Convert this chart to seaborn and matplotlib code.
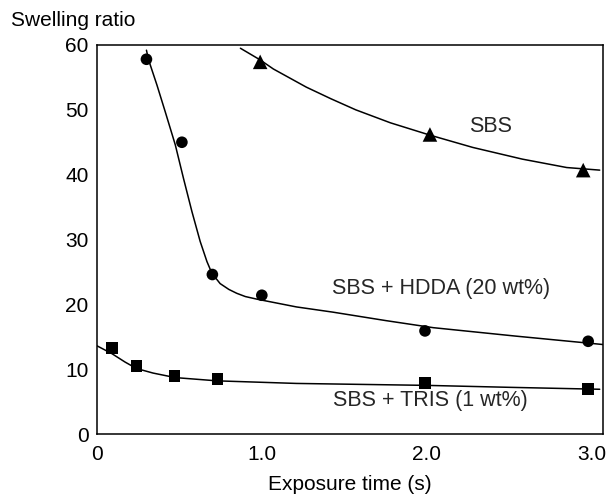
import numpy as np
import pandas as pd
import matplotlib
matplotlib.use("Agg")
import matplotlib.pyplot as plt
import seaborn as sns

# ---- measured data points ----
sbs_x = [0.99, 2.02, 2.95]
sbs_y = [57.4, 46.2, 40.7]

hdda_x = [0.30, 0.515, 0.70, 1.00, 1.99, 2.98]
hdda_y = [57.8, 45.0, 24.6, 21.4, 15.9, 14.3]

tris_x = [0.09, 0.24, 0.47, 0.73, 1.99, 2.98]
tris_y = [13.3, 10.5, 8.9, 8.5, 7.9, 6.9]

# ---- fitted curves ----
sbs_curve_x = [0.87, 0.93, 0.99, 1.07, 1.17, 1.27, 1.42, 1.57, 1.78, 2.02,
               2.28, 2.58, 2.85, 3.05]
sbs_curve_y = [59.5, 58.6, 57.7, 56.3, 54.9, 53.5, 51.7, 50.0, 48.0, 46.1,
               44.2, 42.4, 41.1, 40.7]

hdda_curve_x = [0.30, 0.313, 0.364, 0.414, 0.475, 0.525, 0.576, 0.626, 0.667,
                0.697, 0.747, 0.80, 0.848, 0.90, 0.97, 1.05, 1.13, 1.21, 1.43,
                1.75, 2.04, 2.54, 3.07]
hdda_curve_y = [59.2, 57.7, 53.8, 49.7, 44.6, 39.4, 34.3, 29.7, 26.6,
                24.8, 23.2, 22.3, 21.7, 21.2, 20.8, 20.4, 20.0, 19.6, 18.8,
                17.5, 16.4, 15.1, 13.8]

tris_curve_x = [0.0, 0.09, 0.17, 0.24, 0.34, 0.475, 0.727, 1.21, 2.0, 2.5, 3.05]
tris_curve_y = [13.6, 12.4, 11.1, 10.1, 9.4, 8.7, 8.2, 7.8, 7.5, 7.2, 6.9]

labels = ["SBS", "SBS + HDDA (20 wt%)", "SBS + TRIS (1 wt%)"]

pts = pd.DataFrame({
    "x": sbs_x + hdda_x + tris_x,
    "y": sbs_y + hdda_y + tris_y,
    "s": [labels[0]] * len(sbs_x) + [labels[1]] * len(hdda_x) + [labels[2]] * len(tris_x),
})
curves = pd.DataFrame({
    "x": sbs_curve_x + hdda_curve_x + tris_curve_x,
    "y": sbs_curve_y + hdda_curve_y + tris_curve_y,
    "s": [labels[0]] * len(sbs_curve_x) + [labels[1]] * len(hdda_curve_x) + [labels[2]] * len(tris_curve_x),
})

sns.set_theme(style="white")
plt.rcParams["font.family"] = ["Liberation Sans", "DejaVu Sans"]

fig = plt.figure(figsize=(6.08, 4.97), dpi=100)
ax = fig.add_axes([97 / 608, 1 - 434 / 497, (603 - 97) / 608, (434 - 45) / 497])

pal = {l: "black" for l in labels}
sns.lineplot(data=curves, x="x", y="y", hue="s", palette=pal, sort=False,
             estimator=None, linewidth=1.1, legend=False, ax=ax)
sns.scatterplot(data=pts, x="x", y="y", hue="s", style="s", size="s", palette=pal,
                markers={labels[0]: "^", labels[1]: "o", labels[2]: "s"},
                sizes={labels[0]: 110, labels[1]: 70, labels[2]: 70},
                edgecolor="black", linewidth=0, legend=False, ax=ax, zorder=3)

ax.set_xlim(0, 3.07)
ax.set_ylim(0, 60)
ax.set_xticks([0, 1, 2, 3])
ax.set_xticklabels(["0", "1.0", "2.0", "3.0"])
ax.set_yticks([0, 10, 20, 30, 40, 50, 60])
ax.tick_params(axis="x", direction="in", length=16, width=1, pad=8,
               labelsize=15, colors="black")
ax.tick_params(axis="y", direction="in", length=7, width=1, pad=6,
               labelsize=15, colors="black")
for sp in ax.spines.values():
    sp.set_visible(True)
    sp.set_color("black")
    sp.set_linewidth(1.1)

ax.set_xlabel("Exposure time (s)", fontsize=15, color="black", labelpad=8)
ax.set_ylabel("")
fig.text(11 / 608, 1 - 21 / 497, "Swelling ratio", fontsize=15, color="black",
         ha="left", va="center")

ax.text(2.39, 47.4, labels[0], fontsize=15.5, ha="center", va="center")
ax.text(2.09, 22.4, labels[1], fontsize=15.5, ha="center", va="center")
ax.text(2.02, 5.2, labels[2], fontsize=15.5, ha="center", va="center")

fig.savefig("out.png", dpi=100)
